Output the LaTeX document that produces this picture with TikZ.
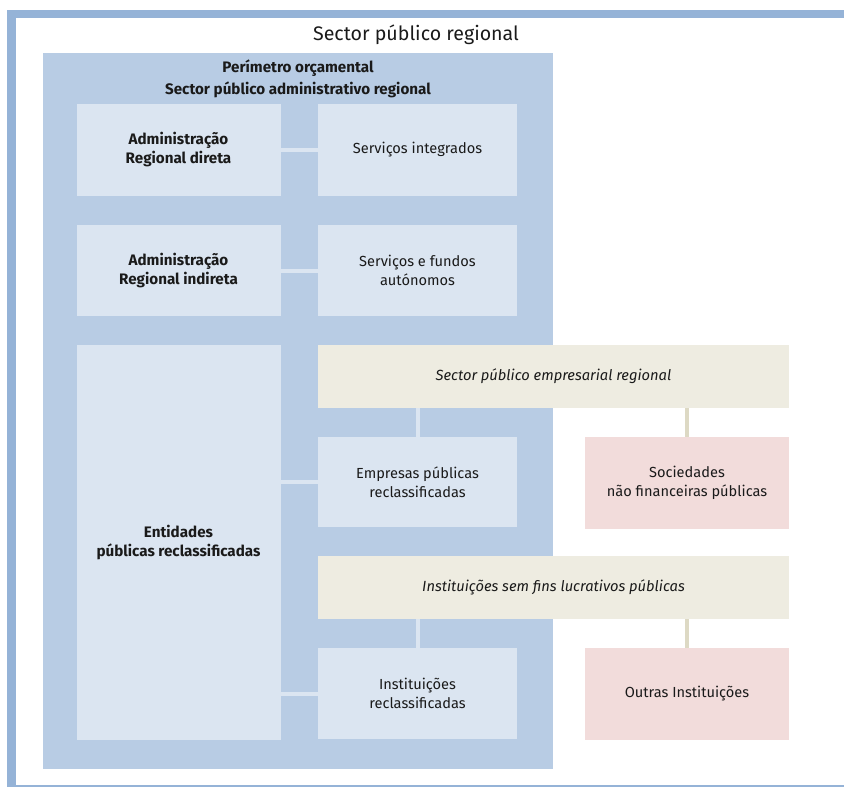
\documentclass[tikz,border=0pt]{standalone}
\usepackage{fontspec}
\setmainfont{Fira Sans}
\definecolor{frameblue}{HTML}{95B3D7}
\definecolor{bigblue}{HTML}{B8CCE4}
\definecolor{lightblue}{HTML}{DBE5F1}
\definecolor{beige}{HTML}{EEECE1}
\definecolor{beigeline}{HTML}{DDD9C4}
\definecolor{pink}{HTML}{F2DCDB}
\definecolor{txt}{HTML}{1A1A1A}
\begin{document}
\begin{tikzpicture}[x=1pt,y=-1pt,
  box/.style={inner sep=0pt, align=center, text=txt, font=\fontsize{14.6}{19}\selectfont},
  lbox/.style={box, fill=lightblue},
  bbox/.style={box, fill=beige, font=\fontsize{14.7}{19}\selectfont\itshape},
  pbox/.style={box, fill=pink},
  conn/.style={draw=lightblue, line width=4pt},
  bconn/.style={draw=beigeline, line width=4pt},
  bold/.style={font=\fontsize{15.2}{19}\selectfont\bfseries}
]
\useasboundingbox (0,0) rectangle (844,787);
% frame
\fill[frameblue] (7,10) rectangle (844,18);
\fill[frameblue] (7,10) rectangle (16,787);
\draw[frameblue, line width=1.5pt] (16,786) -- (844,786);
\node[box, font=\fontsize{19.6}{23}\selectfont] (title) at (416,35) {Sector público regional};
% big blue box
\node[fill=bigblue, minimum width=510pt, minimum height=716pt, inner sep=0pt] (per) at (298,411) {};
\node[box, font=\fontsize{15.2}{22}\selectfont\bfseries] (pertxt) at (298,79) {Perímetro orçamental\\Sector público administrativo regional};
% left column
\node[lbox, bold, minimum width=204pt, minimum height=92pt] (adir) at (178.5,150) {Administração\\Regional direta};
\node[lbox, bold, minimum width=204pt, minimum height=91pt] (aind) at (178.5,270.5) {Administração\\Regional indireta};
\node[lbox, bold, minimum width=204pt, minimum height=395pt] (ent) at (178.5,542.5) {Entidades\\públicas reclassificadas};
% middle column
\node[lbox, minimum width=199pt, minimum height=92pt] (sint) at (417.5,150) {Serviços integrados};
\node[lbox, minimum width=199pt, minimum height=91pt] (sfa) at (417.5,270.5) {Serviços e fundos\\autónomos};
\node[bbox, minimum width=471pt, minimum height=63pt] (spe) at (553.5,376.5) {Sector público empresarial regional};
\node[lbox, minimum width=199pt, minimum height=90pt] (emp) at (417.5,482) {Empresas públicas\\reclassificadas};
\node[bbox, minimum width=471pt, minimum height=63pt] (isfl) at (553.5,587.5) {Instituições sem fins lucrativos públicas};
\node[lbox, minimum width=199pt, minimum height=91pt] (irec) at (417.5,693.5) {Instituições\\reclassificadas};
% right column
\node[pbox, minimum width=204pt, minimum height=92pt] (soc) at (687,483) {Sociedades\\não financeiras públicas};
\node[pbox, minimum width=204pt, minimum height=92pt] (outr) at (687,694) {Outras Instituições};
% connectors
\draw[conn] (adir.east) -- (sint.west);
\draw[conn] (aind.east) -- (sfa.west);
\draw[conn] (emp.west -| ent.east) -- (emp.west);
\draw[conn] (irec.west -| ent.east) -- (irec.west);
\draw[conn] (spe.south -| emp.north) -- (emp.north);
\draw[conn] (isfl.south -| irec.north) -- (irec.north);
\draw[bconn] (spe.south -| soc.north) -- (soc.north);
\draw[bconn] (isfl.south -| outr.north) -- (outr.north);
\end{tikzpicture}
\end{document}
